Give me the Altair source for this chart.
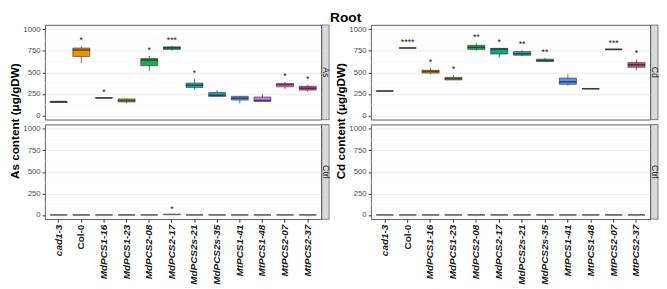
import altair as alt
import pandas as pd

genotypes = ["cad1-3", "Col-0", "MdPCS1-16", "MdPCS1-23", "MdPCS2-08", "MdPCS2-17",
             "MdPCS2s-21", "MdPCS2s-35", "MtPCS1-41", "MtPCS1-48", "MtPCS2-07", "MtPCS2-37"]
colors = ["#B0625C", "#E69500", "#B3A000", "#8FA836", "#19AE47", "#0FA47A",
          "#1DB0AE", "#1A9BC0", "#5B95EE", "#C27CEF", "#E66EDC", "#D44A86"]

# As treatment, As content
as_min = [145, 607, 200, 140, 514, 753, 302, 221, 140, 168, 302, 272]
as_q1 = [150, 684, 203, 156, 577, 767, 324, 221, 178, 163, 332, 294]
as_med = [157, 761, 203, 174, 643, 785, 350, 233, 200, 173, 357, 316]
as_q3 = [165, 783, 206, 192, 662, 797, 376, 266, 221, 214, 372, 339]
as_max = [170, 808, 208, 195, 690, 808, 423, 294, 225, 250, 387, 357]
as_sig = ["", "*", "*", "", "*", "***", "*", "", "", "", "*", "*"]

# Ctrl treatment, As content
asc_val = [1, 1, 1, 1, 1, 6, 1, 1, 1, 1, 1, 1]
asc_sig = ["", "", "", "", "", "*", "", "", "", "", "", ""]

# Cd treatment, Cd content
cd_min = [283, 783, 478, 412, 750, 668, 687, 629, 346, 310, 767, 530]
cd_q1 = [283, 783, 492, 412, 767, 713, 698, 629, 360, 310, 767, 559]
cd_med = [283, 783, 511, 427, 790, 771, 717, 635, 390, 310, 767, 588]
cd_q3 = [283, 783, 525, 442, 815, 779, 742, 654, 434, 310, 767, 614]
cd_max = [283, 783, 552, 467, 844, 783, 764, 668, 478, 310, 767, 651]
cd_sig = ["", "****", "*", "*", "**", "*", "**", "**", "", "", "***", "*"]

# Ctrl treatment, Cd content
cdc_val = [1, 1, 1, 1, 1, 1, 1, 1, 1, 1, 1, 1]
cdc_sig = [""] * 12

y_ticks = [0, 250, 500, 750, 1000]
y_minor = [125, 375, 625, 875]

FONT = "Liberation Sans"
H = 97


def row_chart(mn, q1, md, q3, mx, sig, strip, width, bottom, line_col):
    df = pd.DataFrame({"g": genotypes, "mn": mn, "q1": q1, "md": md,
                       "q3": q3, "mx": mx, "sig": sig})
    band = width / 12.2 * 0.75
    xs = alt.Scale(domain=genotypes, paddingInner=0.25, paddingOuter=0.225)
    ys = alt.Scale(domain=[-50, 1050], nice=False, zero=False)
    if bottom:
        xax = alt.Axis(title=None, labelAngle=-90, labelFont=FONT, labelFontSize=10.2,
                       labelFontWeight="bold", labelColor="#1a1a1a",
                       labelFontStyle={"condition": {"test": "datum.value === 'Col-0'", "value": "normal"},
                                       "value": "italic"},
                       bandPosition=0.5, tickSize=3, tickColor="#333333", domain=False,
                       gridColor="#EBEBEB", labelPadding=2)
    else:
        xax = alt.Axis(title=None, labels=False, ticks=False, domain=False,
                       bandPosition=0.5, gridColor="#EBEBEB")
    yax = alt.Axis(title=None, values=y_ticks, format="d", labelFont=FONT, labelFontSize=8,
                   labelColor="#4D4D4D", tickSize=3, tickColor="#333333", domain=False,
                   gridColor="#EBEBEB", labelPadding=2)
    base = alt.Chart(df)
    x = alt.X("g:N", scale=xs, axis=xax, sort=genotypes)
    minor = alt.Chart(pd.DataFrame({"v": y_minor})).mark_rule(
        color="#F5F5F5", strokeWidth=0.6).encode(y=alt.Y("v:Q", scale=ys, axis=yax))
    whisk = base.mark_rule(color="#333333", strokeWidth=0.7).encode(
        x=x, y=alt.Y("mn:Q", scale=ys, axis=yax), y2="mx:Q")
    box = base.mark_bar(stroke="#333333", strokeWidth=0.6, width=band).encode(
        x=x, y=alt.Y("q1:Q", scale=ys, axis=yax), y2="q3:Q",
        color=alt.Color("g:N", scale=alt.Scale(domain=genotypes, range=colors), legend=None))
    med = base.mark_tick(color=line_col, thickness=1.6, size=band, orient="horizontal").encode(
        x=x, y=alt.Y("md:Q", scale=ys, axis=yax))
    stars = base.mark_text(font=FONT, fontSize=9, color="#1a1a1a", baseline="bottom", dy=-1).encode(
        x=x, y=alt.Y("mx:Q", scale=ys, axis=yax), text="sig:N")
    sdf = pd.DataFrame({"lab": [strip]})
    srect = alt.Chart(sdf).mark_rect(fill="#D9D9D9", stroke="#333333", strokeWidth=0.6).encode(
        x=alt.value(width + 0.5), x2=alt.value(width + 8), y=alt.value(0), y2=alt.value(H))
    stext = alt.Chart(sdf).mark_text(font=FONT, fontSize=9, angle=90, color="#1a1a1a",
                                     align="center", baseline="middle").encode(
        x=alt.value(width + 4.5), y=alt.value(H / 2), text="lab:N")
    return alt.layer(minor, whisk, box, med, stars, srect, stext).properties(width=width, height=H)


def ytitle(text):
    return alt.Chart(pd.DataFrame({"t": [text]})).mark_text(
        font=FONT, fontSize=12, fontWeight="bold", angle=270, color="#000000",
        align="center", baseline="middle").encode(
        x=alt.value(6), y=alt.value(H + 1.5), text="t:N").properties(
        width=12, height=2 * H + 3, view=alt.ViewBackground(strokeOpacity=0))


left = alt.hconcat(
    ytitle("As content (μg/gDW)"),
    alt.vconcat(
        row_chart(as_min, as_q1, as_med, as_q3, as_max, as_sig, "As", 283, False, "#222222"),
        row_chart(asc_val, asc_val, asc_val, asc_val, asc_val, asc_sig, "Ctrl", 283, True, "#666666"),
        spacing=3),
    spacing=0)
right = alt.hconcat(
    ytitle("Cd content (μg/gDW)"),
    alt.vconcat(
        row_chart(cd_min, cd_q1, cd_med, cd_q3, cd_max, cd_sig, "Cd", 286, False, "#222222"),
        row_chart(cdc_val, cdc_val, cdc_val, cdc_val, cdc_val, cdc_sig, "Ctrl", 286, True, "#666666"),
        spacing=3),
    spacing=0)

chart = alt.hconcat(left, right, spacing=4).properties(
    title=alt.TitleParams("Root", font=FONT, fontSize=14, fontWeight="bold", anchor="middle",
                          offset=-1, dx=12, color="#000000"),
    padding=0,
).configure_view(stroke="#333333", strokeWidth=0.8).configure_concat(spacing=0)

chart.save("out.html", embed_options={"renderer": "svg", "actions": False})
